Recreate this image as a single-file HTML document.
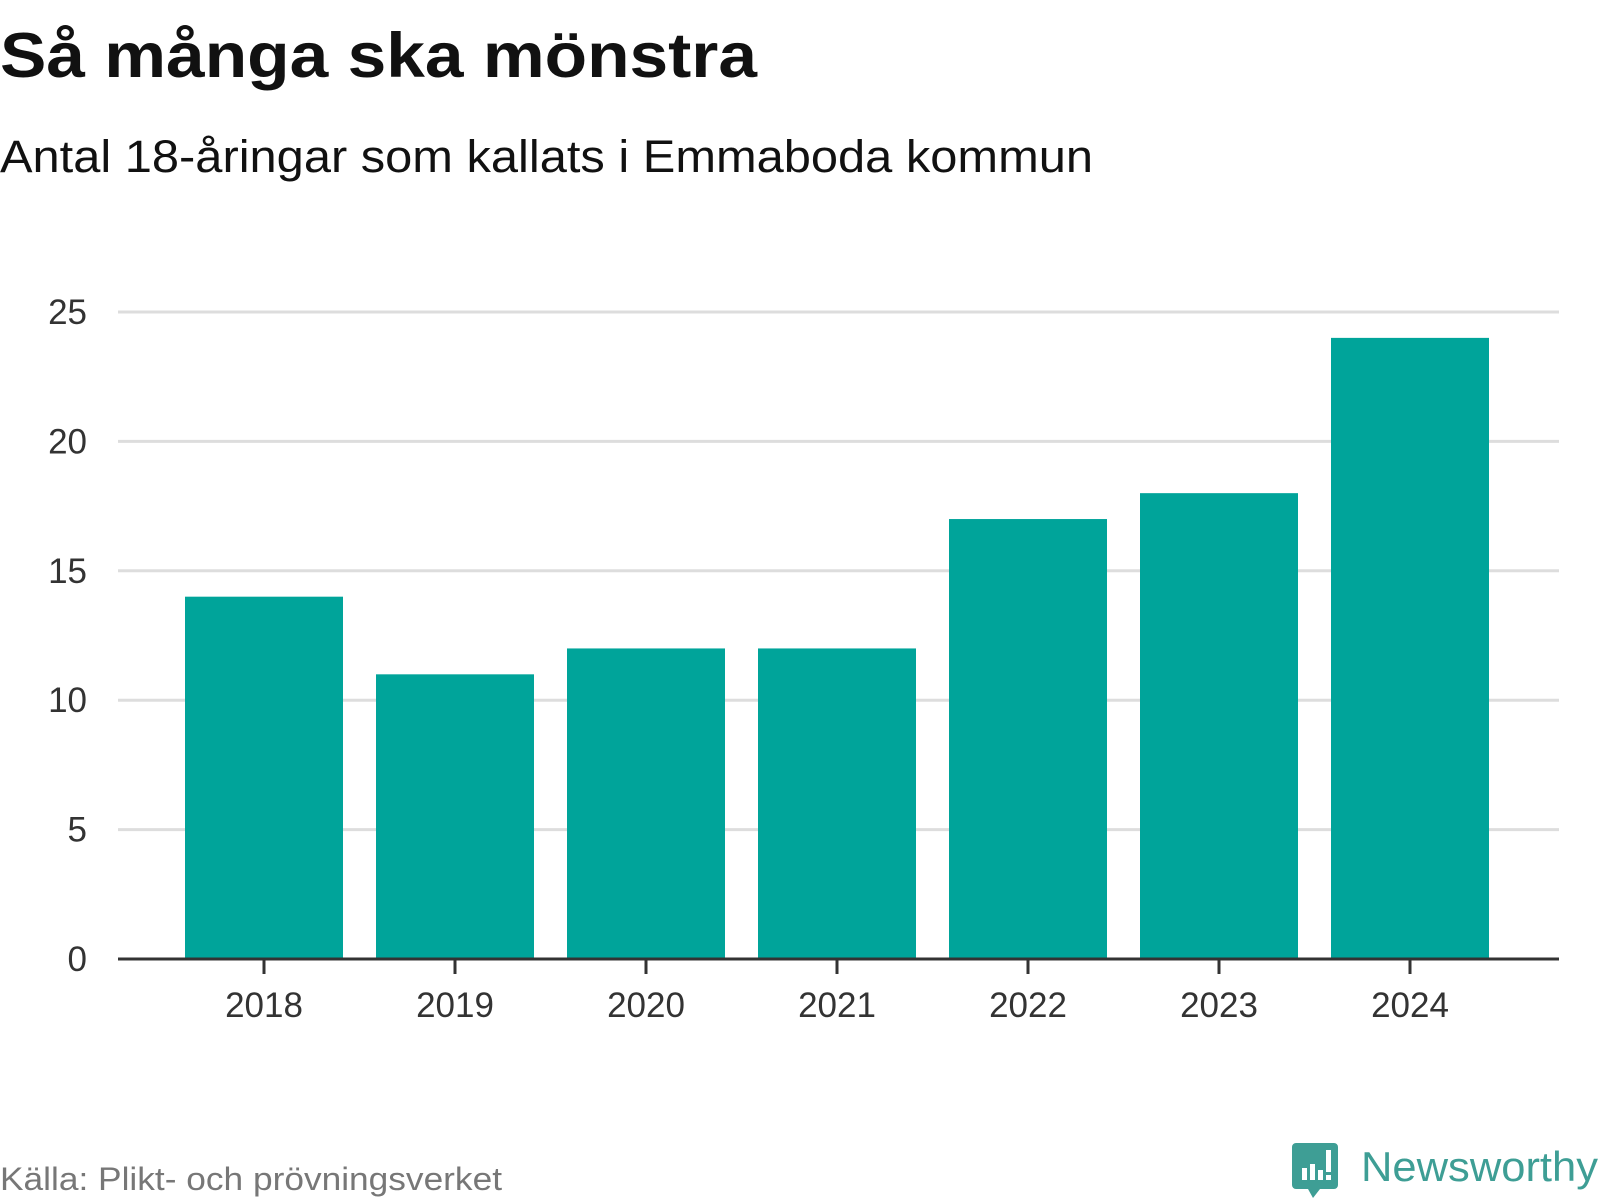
<!DOCTYPE html>
<html><head><meta charset="utf-8"><style>
body{margin:0;background:#fff;}
svg{display:block;font-family:"Liberation Sans","DejaVu Sans",sans-serif;}
</style></head><body>
<svg id="chart" width="1600" height="1200">
<text x="0" y="77" font-size="63" font-weight="bold" fill="#111" textLength="757" lengthAdjust="spacingAndGlyphs">Så många ska mönstra</text>
<text x="0" y="172" font-size="45" fill="#111" textLength="1093" lengthAdjust="spacingAndGlyphs">Antal 18-åringar som kallats i Emmaboda kommun</text>
<g id="grid"></g>
<g id="bars"></g>
<g id="axes"></g>
<text x="0" y="1190" font-size="32" fill="#777" textLength="502" lengthAdjust="spacingAndGlyphs">Källa: Plikt- och prövningsverket</text>
<g>
<path d="M1296 1143 h38 a4 4 0 0 1 4 4 v38 a4 4 0 0 1 -4 4 h-14 l-7 9 l-5 -9 h-12 a4 4 0 0 1 -4 -4 v-38 a4 4 0 0 1 4 -4z" fill="#3e9e95"/>
<rect x="1302" y="1168" width="5" height="12" fill="#fff"/><rect x="1310" y="1164" width="5" height="16" fill="#fff"/><rect x="1318" y="1170" width="5" height="10" fill="#fff"/><rect x="1326" y="1150" width="5" height="22" fill="#fff"/><rect x="1326" y="1175" width="5" height="5" fill="#fff"/>
<text x="1361" y="1181" font-size="42" fill="#3e9e95" textLength="237" lengthAdjust="spacingAndGlyphs">Newsworthy</text>
</g>
</svg>
<script>
const categories=["2018","2019","2020","2021","2022","2023","2024"];
const values=[14,11,12,12,17,18,24];
const yTicks=[0,5,10,15,20,25];
const NS="http://www.w3.org/2000/svg";
const x0=118,x1=1559,y0=959,yTop=312,yMax=25;
const y=v=>y0-(y0-yTop)*v/yMax;
const step=191,first=264,bw=158;
const xc=i=>first+i*step;
function mk(tag,attrs,parent){const e=document.createElementNS(NS,tag);for(const k in attrs)e.setAttribute(k,attrs[k]);parent.appendChild(e);return e;}
const grid=document.getElementById('grid'),bars=document.getElementById('bars'),axes=document.getElementById('axes');
yTicks.forEach(t=>{
 if(t>0){const l=mk('line',{x1:x0,x2:x1,y1:y(t),y2:y(t),stroke:'#ddd','stroke-width':3},grid);
 
 }
 const tx=mk('text',{x:87,y:y(t)+12,'font-size':35,fill:'#333','text-anchor':'end'},axes);
 tx.textContent=t;
 
 
});
categories.forEach((c,i)=>{
 const r=mk('rect',{x:xc(i)-bw/2,y:y(values[i]),width:bw,height:y0-y(values[i]),fill:'#00a49a'},bars);
 
 
 const tk=mk('line',{x1:xc(i),x2:xc(i),y1:y0,y2:y0+15,stroke:'#333','stroke-width':3},axes);
 
 
 const tx=mk('text',{x:xc(i),y:1017,'font-size':35,fill:'#333','text-anchor':'middle'},axes);
 tx.textContent=c;
 
 
});
const base=mk('line',{x1:x0,x2:x1,y1:y0,y2:y0,stroke:'#333','stroke-width':3},axes);


</script>
</body></html>
